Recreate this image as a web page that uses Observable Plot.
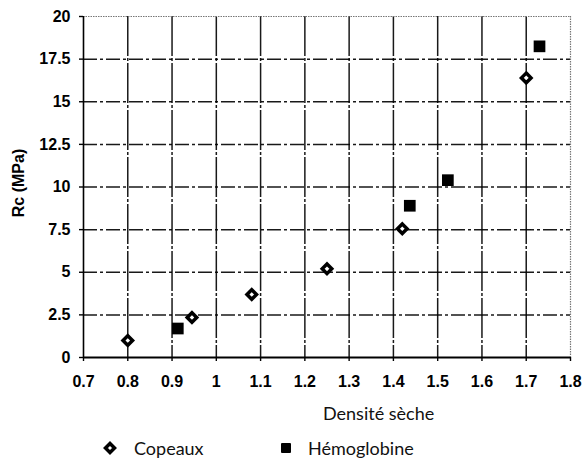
<!DOCTYPE html>
<html>
<head>
<meta charset="utf-8">
<script src="https://cdn.jsdelivr.net/npm/d3@7"></script>
<script src="https://cdn.jsdelivr.net/npm/@observablehq/plot@0.6"></script>
<style>
  html, body { margin: 0; padding: 0; background: #fff; }
  #wrap { position: relative; width: 582px; height: 460px; overflow: hidden; }
  #xlabel { position: absolute; left: 323px; top: 402px; font: 18px Lato, "Open Sans", sans-serif; color: #111; white-space: nowrap; }
  .leg { position: absolute; top: 437px; font: 18px Lato, "Open Sans", sans-serif; color: #111; white-space: nowrap; display: flex; align-items: center; line-height: 22px; }
  .leg svg { margin-right: 16px; }
</style>
</head>
<body>
<div id="wrap">
  <div id="chart"></div>
  <div id="xlabel">Densité sèche</div>
  <div class="leg" style="left:102px"><svg width="16" height="16" viewBox="-8 -8 16 16"><path d="M0,-4.5L4.5,0L0,4.5L-4.5,0Z" fill="#fff" stroke="#000" stroke-width="3.5"/></svg>Copeaux</div>
  <div class="leg" style="left:280px"><svg width="12" height="16" viewBox="-6 -8 12 16"><rect x="-5" y="-5" width="10" height="10" rx="1" fill="#000"/></svg>Hémoglobine</div>
</div>
<script>
// Data
const copeauxX = [0.80, 0.945, 1.08, 1.25, 1.42, 1.70];
const copeauxY = [1.0, 2.35, 3.7, 5.2, 7.55, 16.4];
const hemoX = [0.913, 1.437, 1.523, 1.73];
const hemoY = [1.7, 8.9, 10.4, 18.25];

const xTicks = [0.7, 0.8, 0.9, 1.0, 1.1, 1.2, 1.3, 1.4, 1.5, 1.6, 1.7, 1.8];
const xTickLabels = ["0.7", "0.8", "0.9", "1", "1.1", "1.2", "1.3", "1.4", "1.5", "1.6", "1.7", "1.8"];
const yTicks = [0, 2.5, 5, 7.5, 10, 12.5, 15, 17.5, 20];
const yTickLabels = ["0", "2.5", "5", "7.5", "10", "12.5", "15", "17.5", "20"];
const yLabel = "Rc (MPa)";

const copeaux = copeauxX.map((x, i) => ({x, y: copeauxY[i]}));
const hemo = hemoX.map((x, i) => ({x, y: hemoY[i]}));

const chart = Plot.plot({
  width: 582,
  height: 400,
  marginLeft: 83,
  marginRight: 12,
  marginTop: 16,
  marginBottom: 43,
  x: {domain: [0.7, 1.8]},
  y: {domain: [0, 20]},
  style: {fontFamily: "'Liberation Sans', Arial, sans-serif", color: "#000", background: "#fff"},
  marks: [
    Plot.gridX(xTicks.filter(d => d > 0.7 && d < 1.8), {stroke: "#000", strokeOpacity: 0.9, strokeWidth: 1.5, strokeDasharray: "40,2,3,2"}),
    Plot.gridY(yTicks.filter(d => d > 0 && d < 20), {stroke: "#000", strokeOpacity: 0.9, strokeWidth: 1.5, strokeDasharray: "14,3,3,3"}),
    Plot.ruleY([20], {stroke: "#777", strokeWidth: 1.2, strokeDasharray: "1.5,1"}),
    Plot.ruleX([1.8], {stroke: "#777", strokeWidth: 1.2, strokeDasharray: "1.5,1"}),
    Plot.ruleX([0.7], {stroke: "#000", strokeWidth: 1.6}),
    Plot.ruleY([0], {stroke: "#000", strokeWidth: 2}),
    Plot.axisX({
      ticks: xTicks,
      tickFormat: d => xTickLabels[xTicks.findIndex(t => Math.abs(t - d) < 1e-9)],
      tickSize: 4, tickPadding: 14, fontSize: 16, fontWeight: "bold", label: null, strokeWidth: 1.4
    }),
    Plot.axisY({
      ticks: yTicks,
      tickFormat: d => yTickLabels[yTicks.findIndex(t => Math.abs(t - d) < 1e-9)],
      tickSize: 4, tickPadding: 9, fontSize: 16, fontWeight: "bold", label: null, strokeWidth: 1.4
    }),
    Plot.text([yLabel], {frameAnchor: "left", textAnchor: "middle", dx: -65, dy: -4, rotate: -90, fontSize: 16, fontWeight: "bold"}),
    Plot.dot(copeaux, {x: "x", y: "y", symbol: "diamond2", r: 4.3, fill: "#fff", stroke: "#000", strokeWidth: 3.5}),
    Plot.dot(hemo, {x: "x", y: "y", symbol: "square", r: 6.6, fill: "#000", stroke: "none"})
  ]
});
document.getElementById("chart").appendChild(chart);
</script>
</body>
</html>
